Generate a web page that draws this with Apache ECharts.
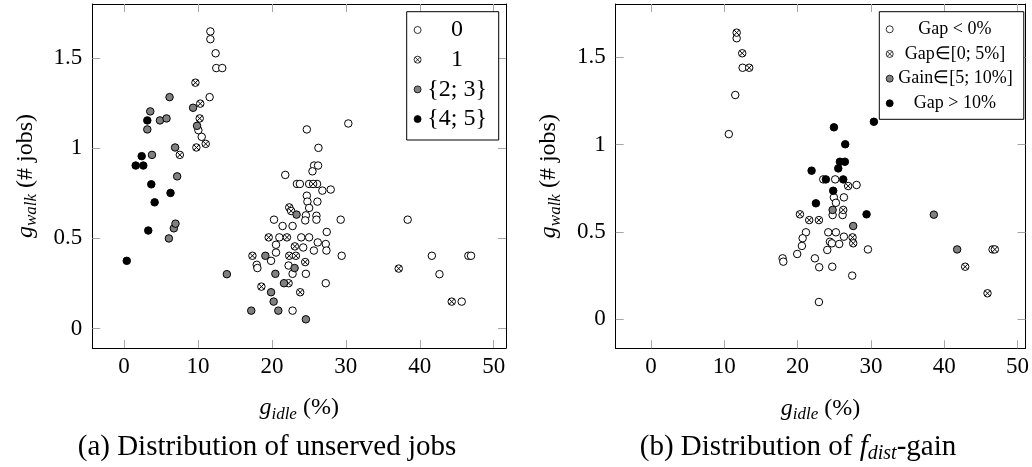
<!DOCTYPE html>
<html><head><meta charset="utf-8">
<script src="https://cdn.jsdelivr.net/npm/echarts@6/dist/echarts.min.js"></script>
<style>html,body{margin:0;padding:0;background:#fff}#c{width:1032px;height:467px}</style>
</head><body><div id="c"></div>
<script>
// ---- tick labels ----
const xTicks = [0, 10, 20, 30, 40, 50];
const yTicks = [0, 0.5, 1, 1.5];

// ---- legend names ----
const namesA = ['0', '1', '{2; 3}', '{4; 5}'];
const namesB = ['Gap < 0%', 'Gap∈[0; 5%]', 'Gain∈[5; 10%]', 'Gap > 10%'];

// ---- (a) distribution of unserved jobs: [g_idle, g_walk] ----
const unserved0 = [
  [11.67,1.647],[11.67,1.604],[12.38,1.526],[12.47,1.444],[13.28,1.444],[11.57,1.283],
  [10.05,1.10],[10.5,1.063],
  [30.33,1.137],[24.72,1.104],[26.29,1.002],[25.7,0.904],[26.24,0.904],[25.48,0.872],
  [21.8,0.852],[23.38,0.802],[23.78,0.802],[25.03,0.802],[26.1,0.802],[26.82,0.765],
  [27.95,0.771],[24.72,0.737],[24.8,0.704],[26.15,0.704],[25.03,0.669],[24.59,0.628],
  [26.02,0.626],[24.5,0.60],[26.02,0.604],[20.28,0.604],[29.3,0.604],[21.44,0.569],
  [22.79,0.569],[27.41,0.536],[21.0,0.506],[23.96,0.506],[25.03,0.506],[26.2,0.478],
  [27.28,0.469],[20.55,0.465],[24.23,0.45],[27.37,0.433],[20.55,0.422],[25.67,0.433],
  [29.43,0.404],[19.88,0.376],[17.94,0.354],[18.03,0.336],[22.25,0.35],[22.79,0.304],
  [24.59,0.304],[27.28,0.252],[22.79,0.10],
  [38.36,0.604],[41.63,0.404],[42.66,0.302],[46.57,0.404],[46.93,0.404],[45.67,0.15]
];
const unserved1 = [
  [9.65,1.363],[10.3,1.247],[10.23,1.165],[9.78,1.004],[11.04,1.024],[7.54,0.963],
  [17.36,0.404],[25.57,0.802],[22.34,0.672],[22.6,0.652],[19.56,0.506],[22.03,0.506],
  [23.1,0.456],[22.34,0.404],[23.24,0.404],[24.5,0.369],[22.25,0.252],[18.57,0.233],
  [23.82,0.202],[37.15,0.333],[44.32,0.15]
];
const unserved23 = [
  [3.54,1.204],[3.14,1.104],[3.77,0.963],[4.85,1.154],[5.74,1.165],[6.15,1.283],
  [6.9,1.004],[7.18,0.844],[6.73,0.556],[6.95,0.582],[6.06,0.50],[9.33,1.224],
  [9.87,1.124],[13.9,0.302],[17.2,0.10],[23.33,0.632],[19.11,0.404],[23.06,0.336],
  [20.46,0.304],[21.63,0.252],[19.88,0.202],[20.23,0.15],[20.86,0.10],[24.59,0.052]
];
const unserved45 = [
  [0.36,0.376],[1.57,0.904],[2.38,0.956],[2.6,0.904],[3.14,1.154],[3.68,0.80],
  [4.13,0.70],[3.27,0.544],[6.28,0.752]
];

// ---- (b) distribution of f_dist-gain: [g_idle, g_walk] ----
const gapNeg = [
  [11.69,1.609],[12.5,1.44],[11.5,1.284],[10.62,1.06],[23.5,0.801],[25.13,0.801],
  [28.05,0.769],[24.95,0.698],[26.32,0.698],[25.23,0.667],[24.78,0.597],[26.14,0.597],
  [21.14,0.498],[24.18,0.498],[25.23,0.498],[26.32,0.473],[20.69,0.464],[24.41,0.444],
  [24.68,0.435],[25.68,0.431],[29.6,0.40],[20.59,0.42],[24.05,0.397],[19.95,0.374],
  [17.96,0.349],[18.05,0.33],[22.36,0.349],[22.95,0.298],[24.73,0.301],[27.45,0.25],
  [22.91,0.099],[46.6,0.40]
];
const gapLow = [
  [11.69,1.641],[12.45,1.523],[13.4,1.44],[26.9,0.763],[26.23,0.626],[20.32,0.601],
  [21.59,0.568],[22.91,0.568],[27.5,0.469],[27.59,0.435],[42.86,0.301],[46.91,0.40],
  [45.91,0.149]
];
const gainMid = [
  [24.78,0.626],[27.59,0.534],[38.59,0.599],[41.77,0.40]
];
const gapHigh = [
  [24.96,1.099],[26.5,1.002],[25.77,0.902],[26.45,0.902],[25.55,0.864],[21.91,0.851],
  [23.86,0.801],[26.23,0.801],[24.86,0.736],[22.5,0.664],[29.41,0.601],[30.41,1.131]
];

const FONT = '"Liberation Serif", serif';
const CROSS = 'path://M10,0A10,10,0,1,1,10,20A10,10,0,1,1,10,0ZM2.93,2.93L17.07,17.07M17.07,2.93L2.93,17.07';
const TICK = {show: true, inside: true, length: 8, lineStyle: {color: '#a6a6a6', width: 1}};
const LINE = {show: true, onZero: false, lineStyle: {color: '#000', width: 1}};

function measure(t, size) {
  const c = document.createElement('canvas').getContext('2d');
  c.font = size + 'px "Liberation Serif"';
  return c.measureText(t).width;
}
function legendData(names, size, W) {
  return names.map(n => {
    const w = measure(n, size);
    const l = Math.max(0, (W - w) / 2);
    return {name: n, textStyle: {padding: [0, Math.max(0, W - w - l), 0, l]}};
  });
}

const nameRich = {
  g: {fontFamily: FONT, fontSize: 24, fontStyle: 'italic', lineHeight: 30, verticalAlign: 'middle', color: '#000'},
  s: {fontFamily: FONT, fontSize: 17, fontStyle: 'italic', lineHeight: 30, verticalAlign: 'bottom', color: '#000'},
  n: {fontFamily: FONT, fontSize: 24, lineHeight: 30, verticalAlign: 'middle', color: '#000'}
};
const capRich = {
  f: {fontFamily: FONT, fontSize: 29, fontStyle: 'italic', lineHeight: 33, verticalAlign: 'middle', color: '#000'},
  s: {fontFamily: FONT, fontSize: 20, fontStyle: 'italic', lineHeight: 33, verticalAlign: 'bottom', color: '#000'},
  n: {fontFamily: FONT, fontSize: 29, lineHeight: 33, verticalAlign: 'middle', color: '#000'}
};

function xAxis(grid, min, max, pos) {
  const main = pos === 'bottom';
  return {
    type: 'value', gridIndex: grid, position: pos, min: min, max: max,
    name: main ? '{g|g}{s|idle}{n| (%)}' : '', nameLocation: 'middle', nameGap: 45,
    nameTextStyle: {rich: nameRich},
    axisLine: LINE, splitLine: {show: false},
    axisTick: Object.assign({customValues: xTicks}, TICK),
    axisLabel: {show: main, customValues: xTicks, margin: 7, fontFamily: FONT, fontSize: 23, color: '#000'}
  };
}
function yAxis(grid, min, max, pos) {
  const main = pos === 'left';
  return {
    type: 'value', gridIndex: grid, position: pos, min: min, max: max,
    name: main ? '{g|g}{s|walk}{n| (# jobs)}' : '', nameLocation: 'middle', nameGap: 52,
    nameTextStyle: {rich: nameRich},
    axisLine: LINE, splitLine: {show: false},
    axisTick: Object.assign({customValues: yTicks}, TICK),
    axisLabel: {show: main, customValues: yTicks, margin: 10, fontFamily: FONT, fontSize: 23, color: '#000'}
  };
}

function series(name, data, xi, yi, kind) {
  const styles = {
    white: {symbol: 'circle', color: '#fff'},
    cross: {symbol: CROSS, color: '#fff'},
    gray: {symbol: 'circle', color: '#808080'},
    black: {symbol: 'circle', color: '#000'}
  };
  const s = styles[kind];
  return {
    type: 'scatter', name: name, data: data, xAxisIndex: xi, yAxisIndex: yi,
    symbol: s.symbol, symbolSize: 7.5,
    itemStyle: {color: s.color, borderColor: '#000', borderWidth: 1, opacity: 1},
    emphasis: {disabled: true}
  };
}

const chart = echarts.init(document.getElementById('c'), null, {renderer: 'canvas'});
chart.setOption({
  animation: false,
  backgroundColor: '#fff',
  grid: [
    {left: 92.3, top: 4, width: 413.7, height: 344, show: false},
    {left: 615.7, top: 4, width: 410, height: 344.3, show: false}
  ],
  xAxis: [
    xAxis(0, -4.3, 51.66, 'bottom'), xAxis(0, -4.3, 51.66, 'top'),
    xAxis(1, -4.81, 51.09, 'bottom'), xAxis(1, -4.81, 51.09, 'top')
  ],
  yAxis: [
    yAxis(0, -0.107, 1.799, 'left'), yAxis(0, -0.107, 1.799, 'right'),
    yAxis(1, -0.166, 1.805, 'left'), yAxis(1, -0.166, 1.805, 'right')
  ],
  legend: [
    {
      orient: 'vertical', left: 406.7, top: 11.7, padding: [5.3, 10.6, 7.9, 7],
      itemWidth: 7, itemHeight: 7, itemGap: 3.7, selectedMode: false,
      borderColor: '#000', borderWidth: 1, backgroundColor: '#fff',
      itemStyle: {borderWidth: 0.8, borderColor: '#000'},
      textStyle: {fontFamily: FONT, fontSize: 24, lineHeight: 26, color: '#000'},
      data: legendData(namesA, 24, 62)
    },
    {
      orient: 'vertical', left: 879.3, top: 11.7, padding: [7.6, 11.1, 6, 6.5],
      itemWidth: 7, itemHeight: 7, itemGap: 4.67, selectedMode: false,
      borderColor: '#000', borderWidth: 1, backgroundColor: '#fff',
      itemStyle: {borderWidth: 0.8, borderColor: '#000'},
      textStyle: {fontFamily: FONT, fontSize: 18, lineHeight: 20, color: '#000'},
      data: legendData(namesB, 18, 113.4)
    }
  ],
  series: [
    series(namesA[0], unserved0, 0, 0, 'white'),
    series(namesA[1], unserved1, 0, 0, 'cross'),
    series(namesA[2], unserved23, 0, 0, 'gray'),
    series(namesA[3], unserved45, 0, 0, 'black'),
    series(namesB[0], gapNeg, 2, 2, 'white'),
    series(namesB[1], gapLow, 2, 2, 'cross'),
    series(namesB[2], gainMid, 2, 2, 'gray'),
    series(namesB[3], gapHigh, 2, 2, 'black')
  ],
  graphic: [
    {type: 'text', x: 267, y: 430.5, style: {text: '{n|(a) Distribution of unserved jobs}', rich: capRich, align: 'center', verticalAlign: 'top'}},
    {type: 'text', x: 798, y: 430.5, style: {text: '{n|(b) Distribution of }{f|f}{s|dist}{n|-gain}', rich: capRich, align: 'center', verticalAlign: 'top'}}
  ]
});
</script>
</body></html>
